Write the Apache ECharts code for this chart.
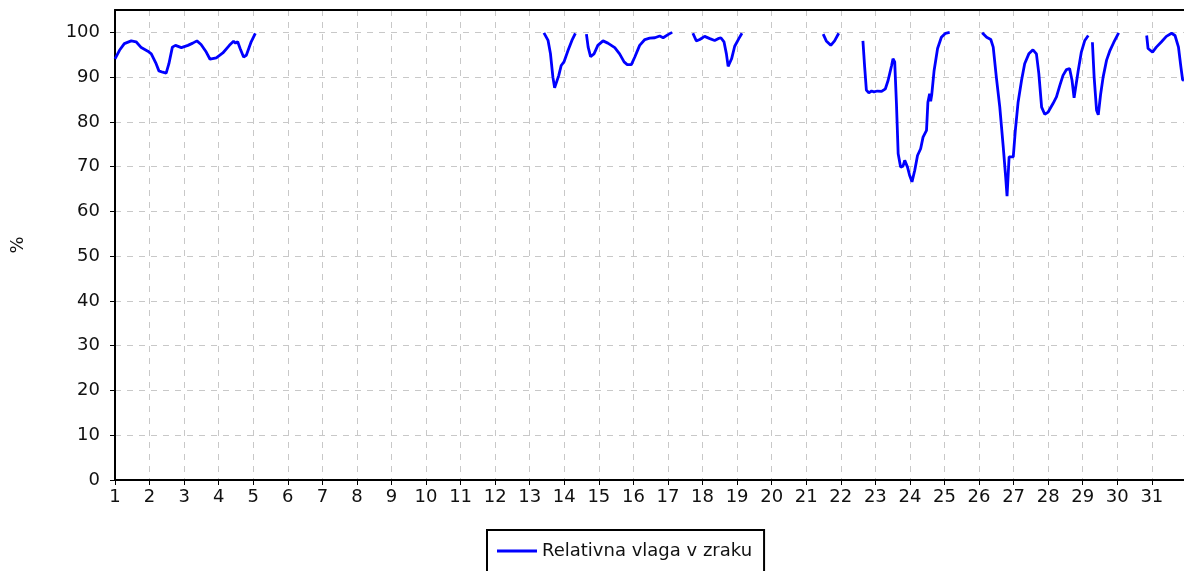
<!DOCTYPE html>
<html>
<head>
<meta charset="utf-8">
<script src="https://cdn.jsdelivr.net/npm/echarts@6/dist/echarts.min.js"></script>
<style>html,body{margin:0;padding:0;background:#fff}#c{width:1184px;height:571px}</style>
</head>
<body>
<div id="c"></div>
<script>
// Day of month (x) and relative humidity in % (y); null = missing data (gap)
const days = [
  1.00,1.13,1.27,1.47,1.61,1.76,1.95,2.05,2.19,2.27,2.38,2.48,2.56,2.66,2.75,2.92,3.11,3.25,3.37,3.49,3.64,3.75,3.93,4.12,4.31,4.43,4.49,4.55,4.62,4.72,4.80,4.94,5.06,
  9.0,
  13.41,13.53,13.60,13.67,13.72,13.77,13.84,13.91,13.99,14.11,14.22,14.32,
  14.5,
  14.64,14.69,14.76,14.86,14.97,15.12,15.26,15.46,15.60,15.73,15.82,15.94,16.04,16.18,16.33,16.47,16.62,16.76,16.86,17.00,17.12,
  17.4,
  17.72,17.82,17.92,18.06,18.21,18.35,18.45,18.53,18.62,18.69,18.74,18.84,18.93,19.05,19.14,
  20.0,
  21.49,21.58,21.71,21.82,21.94,
  22.3,
  22.64,22.69,22.74,22.81,22.89,22.96,23.06,23.18,23.29,23.37,23.47,23.51,23.56,23.61,23.66,23.73,23.80,23.85,23.93,23.99,24.06,24.14,24.22,24.31,24.38,24.48,24.52,24.57,24.60,24.63,24.70,24.80,24.91,25.03,25.15,
  25.6,
  26.09,26.22,26.34,26.41,26.50,26.60,26.70,26.77,26.81,26.87,26.99,27.05,27.13,27.23,27.32,27.44,27.56,27.66,27.73,27.81,27.90,28.00,28.14,28.24,28.34,28.43,28.53,28.62,28.69,28.75,28.79,28.87,28.96,29.06,29.16,
  29.22,
  29.28,29.33,29.40,29.45,29.52,29.59,29.69,29.78,29.90,30.04,
  30.4,
  30.85,30.89,31.02,31.13,31.28,31.42,31.57,31.67,31.77,31.84,31.89,31.93
];
const humidity = [
  94.1,96.0,97.5,98.1,97.9,96.6,95.8,95.2,93.0,91.4,91.1,90.9,93.0,96.7,97.1,96.6,97.1,97.6,98.1,97.3,95.6,94.0,94.3,95.4,97.1,98.0,97.6,97.9,96.4,94.5,94.9,97.9,99.8,
  null,
  99.9,98.2,95.2,90.0,87.6,87.8,90.4,92.6,93.4,96.0,98.2,99.8,
  null,
  99.6,96.7,94.6,95.2,97.1,98.1,97.6,96.6,95.2,93.4,92.8,92.8,94.5,97.1,98.4,98.7,98.8,99.2,98.8,99.5,100.0,
  null,
  99.8,98.1,98.4,99.1,98.6,98.2,98.6,98.8,97.9,95.2,92.4,94.1,96.9,98.6,99.8,
  null,
  99.6,98.1,97.1,98.1,99.8,
  null,
  98.1,92.3,87.1,86.5,86.9,86.7,86.9,86.8,87.4,89.3,92.6,94.1,93.4,84.1,72.9,69.9,70.1,71.4,69.9,68.1,66.6,69.2,72.5,74.0,76.6,78.1,84.4,86.3,84.6,86.0,91.5,96.4,98.9,99.8,100.0,
  null,
  99.9,98.9,98.4,96.7,90.0,83.3,74.4,67.7,63.4,72.2,72.2,78.1,84.4,89.3,93.0,95.2,96.1,95.2,90.8,83.3,81.7,82.2,84.1,85.6,88.2,90.4,91.7,91.9,89.3,85.4,85.6,91.5,95.6,98.2,99.3,
  null,
  97.8,90.0,82.6,81.6,86.3,90.0,93.8,95.8,97.8,99.9,
  null,
  99.3,96.4,95.6,96.7,97.9,99.1,99.8,99.3,96.7,92.3,89.4,89.3
];
const seriesName = 'Relativna vlaga v zraku';
const yAxisName = '%';

const chart = echarts.init(document.getElementById('c'));
const pts = days.map((d, i) => [d, humidity[i] === null ? '-' : humidity[i]]);
const FONT = 'DejaVu Sans';
chart.setOption({
  animation: false,
  backgroundColor: '#fff',
  grid: { left: 115, right: 0, top: 10, bottom: 91, containLabel: false, outerBoundsMode: 'none' },
  legend: {
    data: [seriesName],
    left: 487, top: 530,
    padding: [12, 12, 20, 10],
    borderColor: '#000', borderWidth: 2,
    icon: 'rect', itemWidth: 40, itemHeight: 3,
    itemGap: 10,
    textStyle: { fontFamily: FONT, fontSize: 18, color: '#111' }
  },
  xAxis: [{
    type: 'value', min: 1, max: 31.93, interval: 1,
    axisLine: { show: true, lineStyle: { color: '#000', width: 2 } },
    axisTick: { show: true, length: 5, lineStyle: { color: '#000', width: 1 } },
    axisLabel: {
      margin: 8, color: '#111', fontFamily: FONT, fontSize: 18, showMaxLabel: false,
      formatter: v => (Math.abs(v - Math.round(v)) < 1e-6 ? String(Math.round(v)) : '')
    },
    splitLine: { show: true, lineStyle: { color: '#c8c8c8', type: [6, 6], width: 1 } }
  }, {
    type: 'value', position: 'top', min: 1, max: 31.93,
    axisLine: { show: true, lineStyle: { color: '#000', width: 2 } },
    axisTick: { show: false }, axisLabel: { show: false }, splitLine: { show: false }
  }],
  yAxis: {
    type: 'value', min: 0, max: 105, interval: 10,
    name: yAxisName, nameLocation: 'middle', nameRotate: 90, nameGap: 88,
    nameTextStyle: { fontFamily: FONT, fontSize: 18, color: '#111' },
    axisLine: { show: true, lineStyle: { color: '#000', width: 2 } },
    axisTick: { show: true, length: 5, lineStyle: { color: '#000', width: 1 } },
    axisLabel: {
      margin: 15, color: '#111', fontFamily: FONT, fontSize: 18, showMaxLabel: false,
      formatter: v => (v % 10 === 0 ? String(v) : '')
    },
    splitLine: { show: true, lineStyle: { color: '#c8c8c8', type: [6, 6], width: 1 } }
  },
  series: [{
    name: seriesName, type: 'line', data: pts, xAxisIndex: 0,
    showSymbol: false, symbol: 'none', connectNulls: false,
    lineStyle: { color: '#0000ff', width: 2.8 },
    itemStyle: { color: '#0000ff' }
  }]
});
</script>
</body>
</html>
